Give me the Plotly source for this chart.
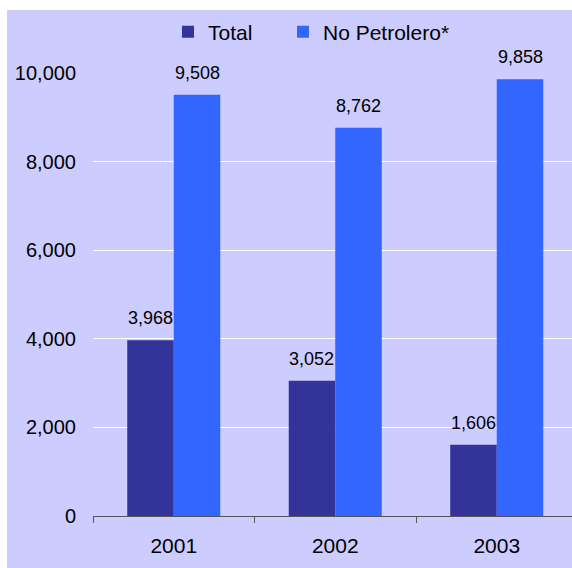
import plotly.graph_objects as go

# Balanza comercial por año
years = ["2001", "2002", "2003"]
total = [3968, 3052, 1606]
no_petrolero = [9508, 8762, 9858]
y_ticks = [0, 2000, 4000, 6000, 8000, 10000]

W, H = 572, 568
L, R, T, B = 93, 0, 73, 52
plot_w = W - L - R
plot_h = H - T - B
cat_px = 161.5          # width of one category slot in pixels
bargap = 0.424
bar_w = (1 - bargap) / 2  # each of the two grouped bars, in category units

LAVENDER = "#CCCCFF"
DARK = "#333399"
BLUE = "#3366FF"
FONT = "Liberation Sans, Arial, sans-serif"

fig = go.Figure()
fig.add_bar(x=years, y=total, name="Total", marker_color=DARK, marker_line_width=0,
            legend="legend")
fig.add_bar(x=years, y=no_petrolero, name="No Petrolero*", marker_color=BLUE,
            marker_line_width=0, legend="legend2")

# value labels above each bar
for i, (a, b) in enumerate(zip(total, no_petrolero)):
    for val, off in ((a, -bar_w / 2), (b, bar_w / 2)):
        fig.add_annotation(x=i + off, y=val, text=f"{val:,}", showarrow=False,
                           yanchor="bottom", yshift=10,
                           font=dict(size=18, color="black", family=FONT))

# white margins around the lavender panel
def px_x(p):
    return (p - L) / plot_w

def px_y(p):
    return (H - B - p) / plot_h

fig.add_shape(type="rect", xref="paper", yref="paper", x0=px_x(0), x1=px_x(W),
              y0=px_y(10), y1=px_y(0), fillcolor="white", line_width=0, layer="above")
fig.add_shape(type="rect", xref="paper", yref="paper", x0=px_x(0), x1=px_x(7),
              y0=px_y(H), y1=px_y(0), fillcolor="white", line_width=0, layer="above")

legend_style = dict(orientation="h", xanchor="left", y=px_y(32), yanchor="middle",
                    bgcolor="rgba(0,0,0,0)", font=dict(size=21, family=FONT),
                    itemwidth=30)

fig.update_layout(
    width=W, height=H,
    margin=dict(l=L, r=R, t=T, b=B),
    paper_bgcolor=LAVENDER, plot_bgcolor=LAVENDER,
    barmode="group", bargap=bargap, bargroupgap=0,
    font=dict(family=FONT, size=20, color="black"),
    showlegend=True,
    legend=dict(x=px_x(168), **legend_style),
    legend2=dict(x=px_x(283), **legend_style),
    xaxis=dict(type="category", range=[-0.5, -0.5 + plot_w / cat_px],
               showgrid=False, showline=True, linecolor="#555555", linewidth=1,
               ticks="outside", tickson="boundaries", ticklen=6, tickcolor="#555555",
               ticklabelstandoff=11, tickfont=dict(size=21)),
    yaxis=dict(range=[0, 10000], tickvals=y_ticks, tickformat=",d",
               showgrid=True, gridcolor="white", gridwidth=1, zeroline=False,
               showline=False, ticks="", ticklabelstandoff=16,
               tickfont=dict(size=20)),
)

fig.write_html("out.html")
